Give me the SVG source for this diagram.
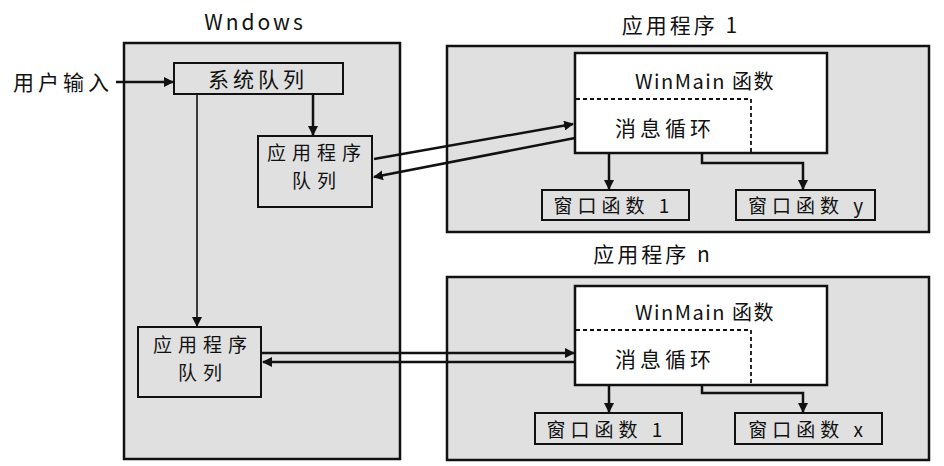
<svg xmlns="http://www.w3.org/2000/svg" width="944" height="466" viewBox="0 0 944 466">
<style>
.gbox{fill:#e0e0e0;stroke:#111;stroke-width:2.5}
.sbox{fill:#e0e0e0;stroke:#111;stroke-width:2}
.wbox{fill:#fff;stroke:#111;stroke-width:2.5}
.dash{fill:none;stroke:#111;stroke-width:1.8;stroke-dasharray:4,3}
.t{font-family:"Noto Sans CJK SC","Liberation Sans",sans-serif;fill:#111;text-anchor:middle;dominant-baseline:central}
.title{font-size:21px;letter-spacing:3px}
.lbl{font-size:21px;letter-spacing:4px}
.ql{font-size:19px;letter-spacing:6px}
.wf{font-size:19px;letter-spacing:5px}
.wm{font-size:20px;letter-spacing:1.5px}
.c{fill:none;stroke:#111}
.thick{stroke-width:2.5}
.thin{stroke-width:1.6}
</style>
<defs>
<marker id="ah" viewBox="0 0 10 10" refX="9" refY="5" markerWidth="10" markerHeight="10" markerUnits="userSpaceOnUse" orient="auto">
<path d="M0,0 L10,5 L0,10 z" fill="#111"/>
</marker>
</defs>
<rect width="944" height="466" fill="#fff"/>

<g id="windows">
<rect class="gbox" x="124" y="43" width="276" height="416"/>
<text class="t title" x="255" y="21">Wndows</text>
</g>
<g id="app1">
<rect class="gbox" x="447" y="46" width="482" height="186"/>
<text class="t title" x="681" y="24">应用程序 1</text>
</g>
<g id="appn">
<rect class="gbox" x="447" y="277" width="482" height="183"/>
<text class="t title" x="653" y="253">应用程序 n</text>
</g>

<g id="user-input">
<text class="t lbl" x="63" y="81">用户输入</text>
</g>
<g id="system-queue">
<rect class="sbox" x="174" y="63" width="169" height="31"/>
<text class="t lbl" x="258" y="78">系统队列</text>
</g>
<g id="app-queue-1">
<rect class="sbox" x="258" y="136" width="114" height="71"/>
<text class="t ql" x="317" y="151">应用程序</text>
<text class="t ql" x="317" y="179">队列</text>
</g>
<g id="app-queue-n">
<rect class="sbox" x="138" y="327" width="123" height="70"/>
<text class="t ql" x="203" y="343">应用程序</text>
<text class="t ql" x="203" y="371">队列</text>
</g>

<g id="winmain-1">
<rect class="wbox" x="575" y="53" width="252" height="100"/>
<text class="t wm" x="705" y="80">WinMain 函数</text>
</g>
<g id="msgloop-1">
<path class="dash" d="M576,99 H751 V153"/>
<text class="t lbl" x="665" y="127">消息循环</text>
</g>
<g id="wndproc-1-1">
<rect class="sbox" x="542" y="190" width="147" height="30"/>
<text class="t wf" x="614" y="204">窗口函数 1</text>
</g>
<g id="wndproc-1-y">
<rect class="sbox" x="736" y="190" width="139" height="30"/>
<text class="t wf" x="808" y="204">窗口函数 y</text>
</g>

<g id="winmain-n">
<rect class="wbox" x="575" y="286" width="252" height="99"/>
<text class="t wm" x="705" y="311">WinMain 函数</text>
</g>
<g id="msgloop-n">
<path class="dash" d="M576,330 H751 V385"/>
<text class="t lbl" x="665" y="358">消息循环</text>
</g>
<g id="wndproc-n-1">
<rect class="sbox" x="535" y="413" width="147" height="31"/>
<text class="t wf" x="607" y="428">窗口函数 1</text>
</g>
<g id="wndproc-n-x">
<rect class="sbox" x="735" y="413" width="147" height="31"/>
<text class="t wf" x="808" y="428">窗口函数 x</text>
</g>

<g id="connectors">
<path class="c thick" d="M116,82 H173" marker-end="url(#ah)"/>
<path class="c thick" d="M313,95 V135" marker-end="url(#ah)"/>
<path class="c thin" d="M197,95 V326" marker-end="url(#ah)"/>
<path class="c thick" d="M374,159 L573,124" marker-end="url(#ah)"/>
<path class="c thick" d="M575,138 L374,177" marker-end="url(#ah)"/>
<path class="c thick" d="M262,353 H574" marker-end="url(#ah)"/>
<path class="c thick" d="M575,362 H263" marker-end="url(#ah)"/>
<path class="c thick" d="M609,154 V189" marker-end="url(#ah)"/>
<path class="c thick" d="M702,154 V163 H803 V189" marker-end="url(#ah)"/>
<path class="c thick" d="M609,386 V412" marker-end="url(#ah)"/>
<path class="c thick" d="M702,386 V393 H803 V412" marker-end="url(#ah)"/>
</g>
</svg>
